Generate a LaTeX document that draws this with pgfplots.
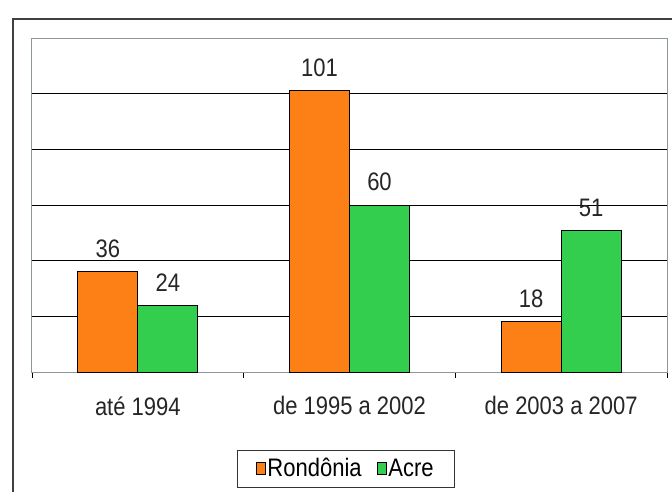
\documentclass[border=0pt]{standalone}
\usepackage{pgfplots}
\pgfplotsset{compat=1.18}
\usepackage{graphicx}
\usepackage{fontspec}
\setmainfont{Liberation Sans}
\definecolor{barorange}{RGB}{252,128,22}
\definecolor{bargreen}{RGB}{52,206,78}
\definecolor{framegray}{RGB}{140,152,148}
\newcommand{\st}[1]{\scalebox{1}[1.15]{#1}}
\begin{document}
\begin{tikzpicture}
\clip (0pt,0pt) rectangle (672pt,491pt);
\useasboundingbox (0pt,0pt) rectangle (672pt,491pt);
\fill[white] (0pt,0pt) rectangle (672pt,491pt);
\draw[line width=1.5pt, black!75] (13pt,-20pt) rectangle (700pt,472pt);
\begin{axis}[
  at={(32pt,119pt)}, anchor=south west,
  scale only axis, width=635pt, height=334pt,
  ymin=0, ymax=120, xmin=-0.5, xmax=2.5,
  ybar, bar width=60pt,
  ytick={0,20,...,120}, yticklabels={},
  ymajorgrids, grid style={black, line width=0.9pt},
  major tick length=0pt,
  xtick={0,1,2},
  xticklabels={\st{até 1994}, \st{de 1995 a 2002}, \st{de 2003 a 2007}},
  minor xtick={-0.5,0.5,1.5,2.5},
  minor tick length=6pt,
  tick align=outside,
  xtick pos=bottom, ytick pos=left,
  minor tick style={black, line width=0.9pt},
  axis line style={framegray, line width=1pt},
  tick label style={font=\fontsize{22}{25}\selectfont, text=black!85},
  xticklabel style={yshift=-21pt},
  /pgf/number format/assume math mode=true,
  nodes near coords={\st{\pgfmathprintnumber{\pgfplotspointmeta}}},
  every node near coord/.append style={font=\fontsize{22}{25}\selectfont, text=black!85, yshift=10pt},
  legend columns=2,
  legend style={at={(0.494,-0.289)}, anchor=center, draw=black!80, line width=0.9pt,
    font=\fontsize{22}{25}\selectfont, inner xsep=19pt, inner ysep=7pt,
    nodes={inner sep=1.5pt},
    /tikz/every odd column/.append style={column sep=0pt},
    /tikz/every even column/.append style={column sep=14pt}},
  legend image code/.code={\draw[#1, draw=black, line width=0.8pt] (0pt,-6pt) rectangle (9pt,6pt);},
]
\addplot[fill=barorange, draw=black, line width=0.9pt, bar shift=-30pt] coordinates {(0,36) (1,101) (2,18)};
\addplot[fill=bargreen, draw=black, line width=0.9pt, bar shift=30pt] coordinates {(0,24) (1,60) (2,51)};
\legend{\st{Rondônia}, \st{Acre}}
\end{axis}
\end{tikzpicture}
\end{document}
